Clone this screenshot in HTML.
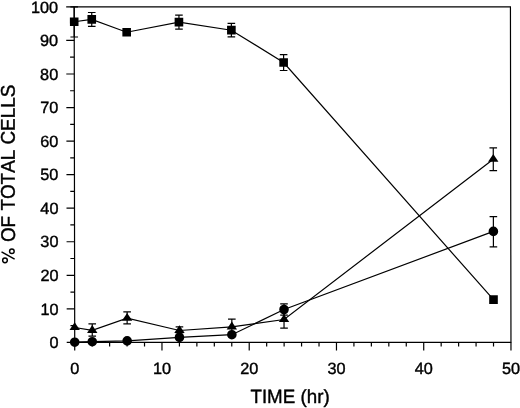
<!DOCTYPE html>
<html><head><meta charset="utf-8"><title>chart</title>
<style>html,body{margin:0;padding:0;background:#fff;}body{width:520px;height:408px;overflow:hidden;font-family:"Liberation Sans",sans-serif;}</style>
</head><body>
<svg width="520" height="408" viewBox="0 0 520 408" style="display:block;filter:grayscale(1) blur(0.3px)">
<rect width="520" height="408" fill="#fff"/>
<g transform="translate(-0.28 0) skewX(0.092)">
<g stroke="#000" stroke-width="1.2" fill="none" stroke-linecap="butt">
<rect x="74.45" y="6.9" width="436.25" height="335.5"/>
<line x1="66.45" y1="342.40" x2="74.45" y2="342.40"/>
<line x1="70.25" y1="325.62" x2="74.45" y2="325.62"/>
<line x1="66.45" y1="308.85" x2="74.45" y2="308.85"/>
<line x1="70.25" y1="292.07" x2="74.45" y2="292.07"/>
<line x1="66.45" y1="275.30" x2="74.45" y2="275.30"/>
<line x1="70.25" y1="258.52" x2="74.45" y2="258.52"/>
<line x1="66.45" y1="241.75" x2="74.45" y2="241.75"/>
<line x1="70.25" y1="224.97" x2="74.45" y2="224.97"/>
<line x1="66.45" y1="208.20" x2="74.45" y2="208.20"/>
<line x1="70.25" y1="191.42" x2="74.45" y2="191.42"/>
<line x1="66.45" y1="174.65" x2="74.45" y2="174.65"/>
<line x1="70.25" y1="157.87" x2="74.45" y2="157.87"/>
<line x1="66.45" y1="141.10" x2="74.45" y2="141.10"/>
<line x1="70.25" y1="124.32" x2="74.45" y2="124.32"/>
<line x1="66.45" y1="107.55" x2="74.45" y2="107.55"/>
<line x1="70.25" y1="90.77" x2="74.45" y2="90.77"/>
<line x1="66.45" y1="74.00" x2="74.45" y2="74.00"/>
<line x1="70.25" y1="57.22" x2="74.45" y2="57.22"/>
<line x1="66.45" y1="40.45" x2="74.45" y2="40.45"/>
<line x1="70.25" y1="23.67" x2="74.45" y2="23.67"/>
<line x1="66.45" y1="6.90" x2="74.45" y2="6.90"/>
<line x1="74.45" y1="342.40" x2="74.45" y2="350.40"/>
<line x1="91.90" y1="342.40" x2="91.90" y2="346.60"/>
<line x1="109.35" y1="342.40" x2="109.35" y2="346.60"/>
<line x1="126.80" y1="342.40" x2="126.80" y2="346.60"/>
<line x1="144.25" y1="342.40" x2="144.25" y2="346.60"/>
<line x1="161.70" y1="342.40" x2="161.70" y2="350.40"/>
<line x1="179.15" y1="342.40" x2="179.15" y2="346.60"/>
<line x1="196.60" y1="342.40" x2="196.60" y2="346.60"/>
<line x1="214.05" y1="342.40" x2="214.05" y2="346.60"/>
<line x1="231.50" y1="342.40" x2="231.50" y2="346.60"/>
<line x1="248.95" y1="342.40" x2="248.95" y2="350.40"/>
<line x1="266.40" y1="342.40" x2="266.40" y2="346.60"/>
<line x1="283.85" y1="342.40" x2="283.85" y2="346.60"/>
<line x1="301.30" y1="342.40" x2="301.30" y2="346.60"/>
<line x1="318.75" y1="342.40" x2="318.75" y2="346.60"/>
<line x1="336.20" y1="342.40" x2="336.20" y2="350.40"/>
<line x1="353.65" y1="342.40" x2="353.65" y2="346.60"/>
<line x1="371.10" y1="342.40" x2="371.10" y2="346.60"/>
<line x1="388.55" y1="342.40" x2="388.55" y2="346.60"/>
<line x1="406.00" y1="342.40" x2="406.00" y2="346.60"/>
<line x1="423.45" y1="342.40" x2="423.45" y2="350.40"/>
<line x1="440.90" y1="342.40" x2="440.90" y2="346.60"/>
<line x1="458.35" y1="342.40" x2="458.35" y2="346.60"/>
<line x1="475.80" y1="342.40" x2="475.80" y2="346.60"/>
<line x1="493.25" y1="342.40" x2="493.25" y2="346.60"/>
<line x1="510.70" y1="342.40" x2="510.70" y2="350.40"/>
<polyline points="74.45,21.75 92.00,19.40 126.90,32.25 179.20,22.20 231.60,30.20 283.80,62.50 493.30,299.70"/>
<polyline points="74.45,327.50 92.00,330.40 126.90,318.20 179.20,330.50 231.60,326.80 283.80,319.50 493.30,159.20"/>
<polyline points="74.45,342.20 92.00,341.70 126.90,340.90 179.20,337.40 231.60,334.70 283.80,309.50 493.30,231.40"/>
<path d="M74.45 6.90V37.00M70.65 6.90H78.25M70.65 37.00H78.25"/>
<path d="M92.00 12.50V26.30M88.20 12.50H95.80M88.20 26.30H95.80"/>
<path d="M92.00 323.80V336.20M88.20 323.80H95.80M88.20 336.20H95.80"/>
<path d="M126.90 311.90V323.80M123.10 311.90H130.70M123.10 323.80H130.70"/>
<path d="M179.20 15.20V29.20M175.40 15.20H183.00M175.40 29.20H183.00"/>
<path d="M179.20 326.90V334.10M175.40 326.90H183.00M175.40 334.10H183.00"/>
<path d="M231.60 23.40V36.90M227.80 23.40H235.40M227.80 36.90H235.40"/>
<path d="M231.60 319.20V334.20M227.80 319.20H235.40M227.80 334.20H235.40"/>
<path d="M283.80 54.70V70.50M280.00 54.70H287.60M280.00 70.50H287.60"/>
<path d="M283.80 310.80V328.10M280.00 310.80H287.60M280.00 328.10H287.60"/>
<path d="M283.80 303.90V315.10M280.00 303.90H287.60M280.00 315.10H287.60"/>
<path d="M493.30 147.80V170.70M489.50 147.80H497.10M489.50 170.70H497.10"/>
<path d="M493.30 216.60V246.80M489.50 216.60H497.10M489.50 246.80H497.10"/>
</g>
<g fill="#000" stroke="none">
<rect x="70.15" y="17.40" width="8.6" height="8.7"/>
<rect x="87.70" y="15.05" width="8.6" height="8.7"/>
<rect x="122.60" y="27.90" width="8.6" height="8.7"/>
<rect x="174.90" y="17.85" width="8.6" height="8.7"/>
<rect x="227.30" y="25.85" width="8.6" height="8.7"/>
<rect x="279.50" y="58.15" width="8.6" height="8.7"/>
<rect x="489.00" y="295.35" width="8.6" height="8.7"/>
<path d="M74.45 322.20L79.65 330.10H69.25Z"/>
<path d="M92.00 325.10L97.20 333.00H86.80Z"/>
<path d="M126.90 312.90L132.10 320.80H121.70Z"/>
<path d="M179.20 325.20L184.40 333.10H174.00Z"/>
<path d="M231.60 321.50L236.80 329.40H226.40Z"/>
<path d="M283.80 314.20L289.00 322.10H278.60Z"/>
<path d="M493.30 153.90L498.50 161.80H488.10Z"/>
<circle cx="74.45" cy="342.20" r="4.8"/>
<circle cx="92.00" cy="341.70" r="4.8"/>
<circle cx="126.90" cy="340.90" r="4.8"/>
<circle cx="179.20" cy="337.40" r="4.8"/>
<circle cx="231.60" cy="334.70" r="4.8"/>
<circle cx="283.80" cy="309.50" r="4.8"/>
<circle cx="493.30" cy="231.40" r="4.8"/>
</g>
<g font-family="'Liberation Sans', sans-serif" fill="#000" stroke="#000" stroke-width="0.4" stroke-linejoin="round">
<text x="58.4" y="348.10" font-size="16.3" text-anchor="end">0</text>
<text x="58.4" y="314.55" font-size="16.3" text-anchor="end">10</text>
<text x="58.4" y="281.00" font-size="16.3" text-anchor="end">20</text>
<text x="58.4" y="247.45" font-size="16.3" text-anchor="end">30</text>
<text x="58.4" y="213.90" font-size="16.3" text-anchor="end">40</text>
<text x="58.4" y="180.35" font-size="16.3" text-anchor="end">50</text>
<text x="58.4" y="146.80" font-size="16.3" text-anchor="end">60</text>
<text x="58.4" y="113.25" font-size="16.3" text-anchor="end">70</text>
<text x="58.4" y="79.70" font-size="16.3" text-anchor="end">80</text>
<text x="58.4" y="46.15" font-size="16.3" text-anchor="end">90</text>
<text x="58.4" y="12.60" font-size="16.3" text-anchor="end">100</text>
<text x="74.45" y="373.7" font-size="16.3" text-anchor="middle">0</text>
<text x="161.70" y="373.7" font-size="16.3" text-anchor="middle">10</text>
<text x="248.95" y="373.7" font-size="16.3" text-anchor="middle">20</text>
<text x="336.20" y="373.7" font-size="16.3" text-anchor="middle">30</text>
<text x="423.45" y="373.7" font-size="16.3" text-anchor="middle">40</text>
<text x="510.70" y="373.7" font-size="16.3" text-anchor="middle">50</text>
<text transform="translate(289.7 403.3) scale(1 1.02)" font-size="18.8" text-anchor="middle">TIME (hr)</text>
<text transform="translate(14.8 174.6) rotate(-90) scale(1 1.05)" x="89.9" font-size="18.9" style="font-kerning:none" text-anchor="end">OF TOTAL CELLS</text>
<g fill="none" stroke="#000" stroke-width="1.45"><circle cx="11.75" cy="251.2" r="2.3"/><circle cx="4.85" cy="260.35" r="2.35"/><path d="M1.4 251.9L14.5 259.1"/></g>
</g>
</g>
</svg>
</body></html>
